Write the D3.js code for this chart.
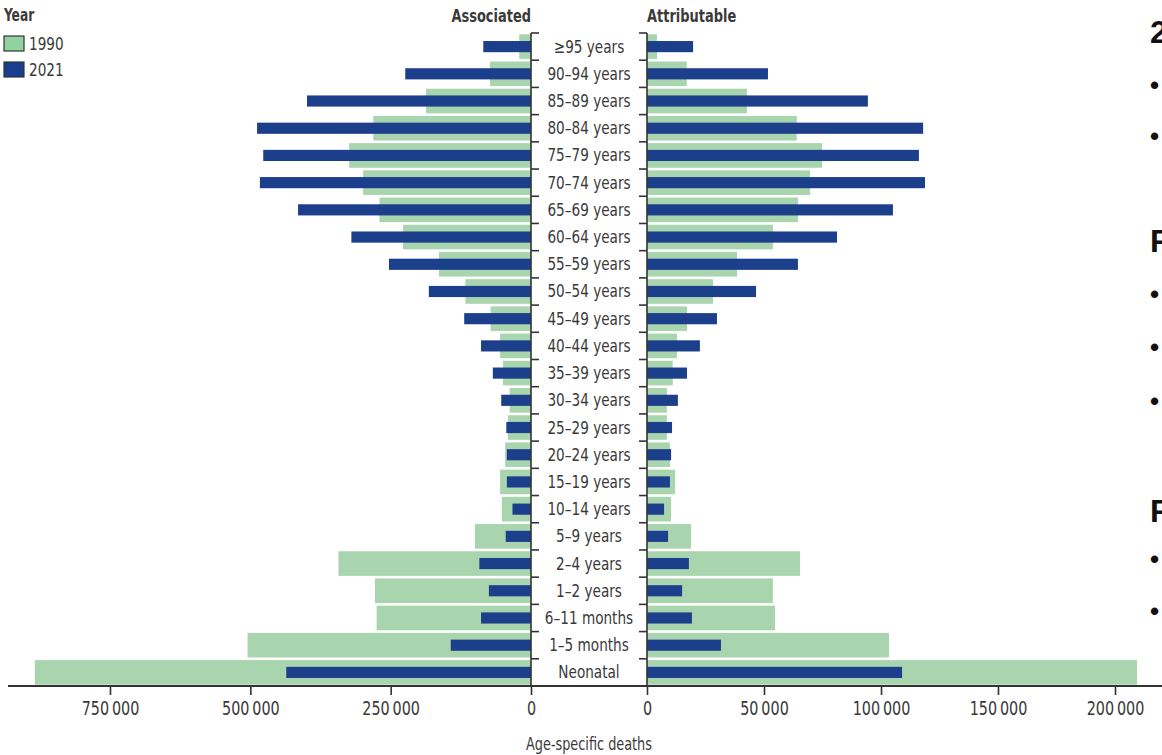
<!DOCTYPE html>
<html>
<head>
<meta charset="utf-8">
<script src="https://cdn.jsdelivr.net/npm/d3@7"></script>
<style>
  body { margin: 0; background: #fff; }
  svg { display: block; }
  text { font-family: "Liberation Sans Narrow", "DejaVu Sans Condensed", sans-serif; fill: #3a3a3a; }
  .side { font-family: "Liberation Sans", Arial, sans-serif; fill: #111; font-weight: bold; }
</style>
</head>
<body>
<script>
// age groups, top to bottom
var ages = ["\u226595 years", "90\u201394 years", "85\u201389 years", "80\u201384 years", "75\u201379 years",
  "70\u201374 years", "65\u201369 years", "60\u201364 years", "55\u201359 years", "50\u201354 years",
  "45\u201349 years", "40\u201344 years", "35\u201339 years", "30\u201334 years", "25\u201329 years",
  "20\u201324 years", "15\u201319 years", "10\u201314 years", "5\u20139 years", "2\u20134 years",
  "1\u20132 years", "6\u201311 months", "1\u20135 months", "Neonatal"];

// associated deaths
var assoc1990 = [21000, 73000, 187000, 281000, 324000, 299000, 270000, 228000, 164000, 117000,
  72000, 55000, 50000, 38000, 41000, 46000, 55000, 52000, 100000, 343000, 278000, 275000, 505000, 884000];
var assoc2021 = [85000, 224000, 399000, 488000, 477000, 483000, 415000, 320000, 253000, 182000,
  119000, 89000, 68000, 53000, 44000, 43000, 43000, 33000, 45000, 92000, 75000, 89000, 143000, 436000];

// attributable deaths
var attr1990 = [4300, 17000, 42700, 64000, 74800, 69700, 64500, 53800, 38500, 28200,
  17100, 12800, 11000, 8500, 8500, 9800, 12000, 10300, 18800, 65400, 53800, 54700, 103400, 209400];
var attr2021 = [19700, 51700, 94400, 118000, 116200, 118800, 105100, 81200, 64500, 46600,
  29900, 22600, 17100, 13200, 10700, 10300, 9800, 7300, 9000, 17900, 15000, 19200, 31600, 109000];

var years = ["1990", "2021"];
var leftTicks = [0, 250000, 500000, 750000];
var rightTicks = [0, 50000, 100000, 150000, 200000];

var green = "#a8d5ae";
var blue = "#1b3f8b";

var width = 1162, height = 755;

var svg = d3.select("body").append("svg")
  .attr("width", width)
  .attr("height", height);

// scales
var y = d3.scaleBand().domain(ages).range([33, 686]);
var xLeft = d3.scaleLinear().domain([0, 750000]).range([531, 110]);
var xRight = d3.scaleLinear().domain([0, 200000]).range([647, 1115]);

var fmt = function(d) { return d3.format(",")(d).replace(/,/g, "\u2009"); };

var rows = ages.map(function(a, i) {
  return { age: a, a90: assoc1990[i], a21: assoc2021[i], t90: attr1990[i], t21: attr2021[i] };
});

var step = y.bandwidth();
var greenH = step - 2.6;
var blueH = step * 0.41;

// left panel, bars grow to the left
svg.append("g").selectAll("rect")
  .data(rows).enter().append("rect")
  .attr("x", function(d) { return xLeft(d.a90); })
  .attr("y", function(d) { return y(d.age) + (step - greenH) / 2; })
  .attr("width", function(d) { return xLeft(0) - xLeft(d.a90); })
  .attr("height", greenH)
  .attr("fill", green);

svg.append("g").selectAll("rect")
  .data(rows).enter().append("rect")
  .attr("x", function(d) { return xLeft(d.a21); })
  .attr("y", function(d) { return y(d.age) + (step - blueH) / 2; })
  .attr("width", function(d) { return xLeft(0) - xLeft(d.a21); })
  .attr("height", blueH)
  .attr("fill", blue);

// right panel
svg.append("g").selectAll("rect")
  .data(rows).enter().append("rect")
  .attr("x", xRight(0))
  .attr("y", function(d) { return y(d.age) + (step - greenH) / 2; })
  .attr("width", function(d) { return xRight(d.t90) - xRight(0); })
  .attr("height", greenH)
  .attr("fill", green);

svg.append("g").selectAll("rect")
  .data(rows).enter().append("rect")
  .attr("x", xRight(0))
  .attr("y", function(d) { return y(d.age) + (step - blueH) / 2; })
  .attr("width", function(d) { return xRight(d.t21) - xRight(0); })
  .attr("height", blueH)
  .attr("fill", blue);

// vertical axes with ticks at the band edges
var edges = ages.map(function(a) { return y(a); });
var axisColor = "#333";

svg.append("line")
  .attr("x1", xLeft(0)).attr("x2", xLeft(0))
  .attr("y1", y.range()[0]).attr("y2", y.range()[1])
  .attr("stroke", axisColor).attr("stroke-width", 1.6);
svg.append("line")
  .attr("x1", xRight(0)).attr("x2", xRight(0))
  .attr("y1", y.range()[0]).attr("y2", y.range()[1])
  .attr("stroke", axisColor).attr("stroke-width", 1.6);

svg.append("g").selectAll("line")
  .data(edges).enter().append("line")
  .attr("x1", xLeft(0)).attr("x2", xLeft(0) + 8)
  .attr("y1", function(d) { return d; }).attr("y2", function(d) { return d; })
  .attr("stroke", axisColor).attr("stroke-width", 1.6);
svg.append("g").selectAll("line")
  .data(edges).enter().append("line")
  .attr("x1", xRight(0) - 8).attr("x2", xRight(0))
  .attr("y1", function(d) { return d; }).attr("y2", function(d) { return d; })
  .attr("stroke", axisColor).attr("stroke-width", 1.6);

// age labels in the middle
svg.append("g").selectAll("text")
  .data(ages).enter().append("text")
  .attr("class", "narrow")
  .attr("x", (xLeft(0) + xRight(0)) / 2)
  .attr("y", function(d) { return y(d) + step / 2 + 6; })
  .attr("text-anchor", "middle")
  .attr("font-size", 18)
  .text(function(d) { return d; });

// bottom axis line across the whole chart
var axisY = y.range()[1];
svg.append("line")
  .attr("x1", 8).attr("x2", width)
  .attr("y1", axisY).attr("y2", axisY)
  .attr("stroke", axisColor).attr("stroke-width", 1.8);

var leftAxis = svg.append("g")
  .attr("transform", "translate(0," + axisY + ")")
  .call(d3.axisBottom(xLeft).tickValues(leftTicks).tickFormat(fmt).tickSize(9).tickPadding(7));
var rightAxis = svg.append("g")
  .attr("transform", "translate(0," + axisY + ")")
  .call(d3.axisBottom(xRight).tickValues(rightTicks).tickFormat(fmt).tickSize(9).tickPadding(7));

[leftAxis, rightAxis].forEach(function(ax) {
  ax.select(".domain").remove();
  ax.selectAll("line").attr("stroke", axisColor).attr("stroke-width", 1.6);
  ax.selectAll("text")
    .attr("class", "narrow")
    .attr("font-family", null)
    .attr("font-size", 19)
    .attr("fill", "#3a3a3a");
});

// panel titles
svg.append("text")
  .attr("class", "narrow bold")
  .attr("x", xLeft(0)).attr("y", 22)
  .attr("text-anchor", "end")
  .attr("font-size", 18).attr("font-weight", "bold")
  .text("Associated");
svg.append("text")
  .attr("class", "narrow bold")
  .attr("x", xRight(0)).attr("y", 22)
  .attr("text-anchor", "start")
  .attr("font-size", 18).attr("font-weight", "bold")
  .text("Attributable");

// x axis title
svg.append("text")
  .attr("class", "narrow")
  .attr("x", (xLeft(0) + xRight(0)) / 2).attr("y", 750)
  .attr("text-anchor", "middle")
  .attr("font-size", 17)
  .text("Age-specific deaths");

// legend
svg.append("text")
  .attr("class", "narrow bold")
  .attr("x", 4).attr("y", 21)
  .attr("font-size", 17).attr("font-weight", "bold")
  .text("Year");
var legend = svg.append("g").selectAll("g")
  .data(years).enter().append("g")
  .attr("transform", function(d, i) { return "translate(4," + (36 + i * 26) + ")"; });
legend.append("rect")
  .attr("width", 20).attr("height", 15)
  .attr("fill", function(d, i) { return i == 0 ? "#92d1a0" : "#1a3d8e"; })
  .attr("stroke", "#2b3a30").attr("stroke-width", 1.2);
legend.append("text")
  .attr("class", "narrow")
  .attr("x", 25).attr("y", 14)
  .attr("font-size", 18)
  .text(function(d) { return d; });

// squeeze the condensed font down to the narrow look of the original
svg.selectAll("text.narrow").each(function() {
  var k = d3.select(this).classed("bold") ? 0.8 : 0.84;
  var len = this.getComputedTextLength();
  d3.select(this)
    .attr("textLength", len * k)
    .attr("lengthAdjust", "spacingAndGlyphs");
});

// edge of the neighbouring slide text
var sideHeads = [{ t: "2", y: 43 }, { t: "F", y: 252 }, { t: "F", y: 522 }];
var sideBullets = [94, 145, 303, 356, 410, 568, 620];
svg.append("g").selectAll("text")
  .data(sideHeads).enter().append("text")
  .attr("class", "side")
  .attr("x", 1150).attr("y", function(d) { return d.y; })
  .attr("font-size", 32)
  .text(function(d) { return d.t; });
svg.append("g").selectAll("text")
  .data(sideBullets).enter().append("text")
  .attr("class", "side")
  .attr("x", 1150).attr("y", function(d) { return d; })
  .attr("font-size", 26)
  .text("\u2022");
</script>
</body>
</html>
